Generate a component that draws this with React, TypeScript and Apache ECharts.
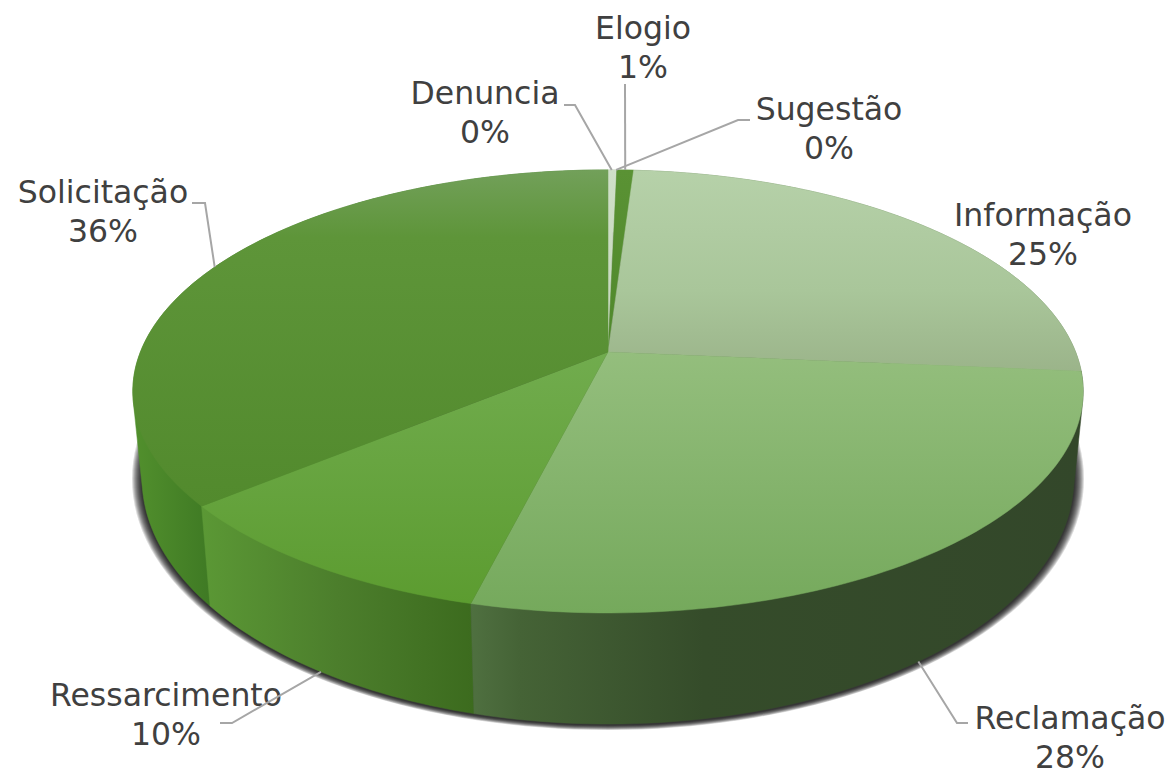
import React, { useEffect, useRef } from "react";
import * as echarts from "echarts";

const categories = ["Denuncia", "Sugestão", "Elogio", "Informação", "Reclamação", "Ressarcimento", "Solicitação"];
const values = [0.3, 0.05, 0.68, 25.37, 27.5, 10.1, 36.0];

// top face: vertical gradient stops; side face: horizontal gradient stops
const topStops: [number, string][][] = [
  [[0, "#cfdfc8"], [1, "#c4d6bb"]],
  [[0, "#d5e3cf"], [1, "#c9dbc1"]],
  [[0, "#5a9234"], [1, "#4f882b"]],
  [[0, "#b6d1a9"], [0.6, "#a9c69a"], [1, "#9bb48a"]],
  [[0, "#94be7d"], [1, "#75a95c"]],
  [[0, "#71ac4e"], [1, "#5c9c30"]],
  [[0, "#72a05a"], [0.2, "#5e9539"], [1, "#528a2d"]],
];
const sideStops: [number, string][][] = [
  [[0, "#9fb595"], [1, "#9fb595"]],
  [[0, "#9fb595"], [1, "#9fb595"]],
  [[0, "#4f882b"], [1, "#4f882b"]],
  [[0, "#6b8a5c"], [1, "#6b8a5c"]],
  [[0, "#4f7040"], [0.08, "#456336"], [0.38, "#354c2a"], [1, "#33472a"]],
  [[0, "#5b9835"], [0.5, "#4c7e2c"], [1, "#3c6b1e"]],
  [[0, "#52902d"], [0.16, "#3f7a24"], [1, "#3f7a24"]],
];
const sideOrder = [0, 0, 0, 0, 3, 2, 1];
// label centres and leader elbows (null: the label has no leader line)
const labelPos: [number, number][] = [
  [485, 112.5], [829, 128.5], [643, 47.5], [1043, 234.5], [1070, 737.5], [166, 714.5], [103, 211.5],
];
const elbows: ([number, number][] | null)[] = [
  [[575, 105], [564, 105]],
  [[738, 120], [750, 120]],
  [[625, 84]],
  null,
  [[957, 723], [968, 723]],
  [[232, 723], [220, 723]],
  [[205, 203], [192, 203]],
];
const shadowRings = [10, 9, 8, 7, 6, 5, 4, 3, 2, 1];

// projection of the pie: apex, perspective and the two rim ellipses
const APEX = { x: 608, y: 352, a: 467.6, b: 214.5, k: -0.178 };
const TOP = { x: 608, y: 391, rx: 475, ry: 221 };
const BOTTOM = { x: 608, y: 478, rx: 466, ry: 246 };

const total = values.reduce((s, v) => s + v, 0);
const starts = values.map((_, i) => values.slice(0, i).reduce((s, v) => s + v, 0));

const rimTop = (p: number): [number, number] => {
  const t = (p / total) * Math.PI * 2;
  const ux = Math.sin(t);
  const uy = -Math.cos(t);
  const d = 1 + APEX.k * uy;
  return [APEX.x + (APEX.a * ux) / d, APEX.y + (APEX.b * uy) / d];
};
const rimPhi = (p: number) => {
  const [x, y] = rimTop(p);
  return Math.atan2((y - TOP.y) / TOP.ry, (x - TOP.x) / TOP.rx);
};
const rimBottom = (p: number): [number, number] => {
  const f = rimPhi(p);
  return [BOTTOM.x + BOTTOM.rx * Math.cos(f), BOTTOM.y + BOTTOM.ry * Math.sin(f)];
};
const arc = (i: number, fn: (p: number) => [number, number]) => {
  const n = Math.max(2, Math.ceil(values[i] * 3));
  const pts: [number, number][] = [];
  for (let j = 0; j <= n; j++) pts.push(fn(starts[i] + (values[i] * j) / n));
  return pts;
};
// outline of a slice's wall: the hull of its two rims
const hull = (input: [number, number][]) => {
  const pts = [...input].sort((a, b) => a[0] - b[0] || a[1] - b[1]);
  const cross = (o: number[], a: number[], b: number[]) =>
    (a[0] - o[0]) * (b[1] - o[1]) - (a[1] - o[1]) * (b[0] - o[0]);
  const half = (list: [number, number][]) => {
    const out: [number, number][] = [];
    for (const q of list) {
      while (out.length >= 2 && cross(out[out.length - 2], out[out.length - 1], q) <= 0) out.pop();
      out.push(q);
    }
    out.pop();
    return out;
  };
  return [...half(pts), ...half([...pts].reverse())];
};
const grad = (stops: [number, string][]) =>
  new echarts.graphic.LinearGradient(0, 0, 0, 1, stops.map(([offset, color]) => ({ offset, color })));
const gradX = (stops: [number, string][], x0: number, x1: number) =>
  new echarts.graphic.LinearGradient(x0, 0, x1, 0, stops.map(([offset, color]) => ({ offset, color })), true);

const FONT = "'DejaVu Sans', Verdana, sans-serif";

export default function App() {
  const ref = useRef<HTMLDivElement>(null);
  useEffect(() => {
    document.body.style.margin = "0";
    const chart = echarts.init(ref.current!, null, { renderer: "svg" });
    const data = values.map((v, i) => ({ name: categories[i], value: v }));
    chart.setOption({
      animation: false,
      backgroundColor: "#ffffff",
      series: [
        {
          type: "custom", coordinateSystem: "none", z: 1, silent: true, data: shadowRings,
          renderItem: (p: any) => {
            const k = shadowRings[p.dataIndex];
            const pts: [number, number][] = [];
            for (let j = 0; j < 180; j++) {
              const f = (j / 180) * Math.PI * 2;
              pts.push([BOTTOM.x + (BOTTOM.rx + k) * Math.cos(f), BOTTOM.y + 1 + (BOTTOM.ry + k * 0.5) * Math.sin(f)]);
            }
            return { type: "polygon", shape: { points: pts }, style: { fill: "rgba(0,0,0,0.14)" } };
          },
        },
        {
          type: "custom", coordinateSystem: "none", z: 2, silent: true, data,
          renderItem: (p: any) => {
            const i = p.dataIndex;
            const pts = hull([...arc(i, rimTop), ...arc(i, rimBottom)]);
            const xs = pts.map((q) => q[0]);
            const fill = gradX(sideStops[i], Math.min(...xs), Math.max(...xs));
            return {
              type: "polygon", z2: sideOrder[i], shape: { points: pts },
              style: { fill, stroke: fill, lineWidth: 0.5 },
            };
          },
        },
        {
          type: "custom", coordinateSystem: "none", z: 3, silent: true, data,
          renderItem: (p: any) => {
            const i = p.dataIndex;
            const pts: [number, number][] = [[APEX.x, APEX.y], ...arc(i, rimTop)];
            const fill = grad(topStops[i]);
            return { type: "polygon", shape: { points: pts }, style: { fill, stroke: fill, lineWidth: 0.5 } };
          },
        },
        {
          type: "custom", coordinateSystem: "none", z: 4, silent: true, data,
          renderItem: (p: any) => {
            const i = p.dataIndex;
            const mid = starts[i] + values[i] / 2;
            const front = Math.sin(rimPhi(mid)) > 0.3;
            const anchor = front ? rimBottom(mid) : rimTop(mid);
            const children: any[] = [];
            const [lx, ly] = labelPos[i];
            children.push({
              type: "text", z2: 1,
              style: {
                text: `${categories[i]}\n${Math.round(values[i])}%`,
                x: lx, y: ly, align: "center", verticalAlign: "middle",
                fontSize: 31.5, fontFamily: FONT, lineHeight: 38.5, fill: "#404040",
              },
            });
            if (elbows[i]) {
              children.push({
                type: "polyline", z2: 2,
                shape: { points: [anchor, ...elbows[i]!] },
                style: { stroke: "#a6a6a6", lineWidth: 2, fill: "none" },
              });
            }
            return { type: "group", children };
          },
        },
      ],
    });
    return () => chart.dispose();
  }, []);
  return <div ref={ref} style={{ position: "fixed", left: 0, top: 0, width: 1171, height: 770 }} />;
}
